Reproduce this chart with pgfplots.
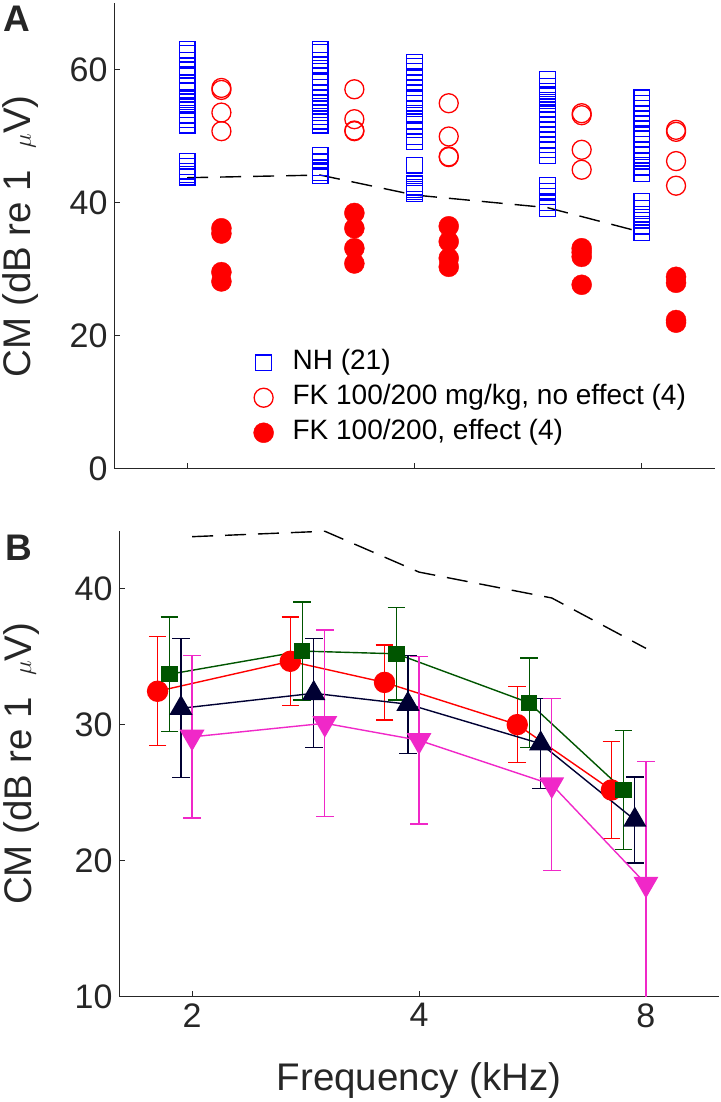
\documentclass[border=0pt]{standalone}
\usepackage{fontspec}
\setmainfont{Liberation Sans}
\usepackage{pgfplots}
\pgfplotsset{compat=1.18}
\definecolor{nhblue}{RGB}{0,0,255}
\definecolor{fkred}{RGB}{255,0,0}
\definecolor{dgreen}{RGB}{0,85,0}
\definecolor{navy}{RGB}{0,0,51}
\definecolor{mag}{RGB}{240,40,200}
\definecolor{axgray}{RGB}{38,38,38}
\pgfplotsset{
 myaxis/.style={
  scale only axis, xmin=1.6, xmax=10,
  axis x line*=bottom, axis y line*=left,
  axis line style={axgray, line width=1pt},
  tick align=inside, major tick length=6pt,
  tick style={axgray, line width=1pt},
  xminorticks=false, yminorticks=false,
  xtick={2,4,8},
  ticklabel style={font=\fontsize{34}{40}\selectfont, text=axgray},
  yticklabel style={xshift=-3pt},
  xticklabel style={yshift=-3pt},
  label style={font=\fontsize{38.5}{44}\selectfont, text=axgray},
  ylabel={CM (dB re 1\ \ $\mu$V)},
 },
 ebar/.style={error bars/.cd, y dir=both, y explicit, error bar style={line width=1.3pt}, error mark options={line width=1.3pt, mark size=8.8pt, rotate=90}},
}
\begin{document}
\begin{tikzpicture}
\path[use as bounding box] (0pt,0pt) rectangle (720pt,1102pt);
\node[font=\fontsize{37}{42}\selectfont\bfseries, text=axgray] at (17pt,1083pt) {A};
\node[font=\fontsize{37}{42}\selectfont\bfseries, text=axgray] at (19pt,554pt) {B};
% ---------------- panel A
\begin{axis}[xmode=log, log basis x=2, myaxis, at={(114pt,633pt)}, anchor=south west, width=601pt, height=465.5pt,
  ymin=0, ymax=70, ytick={0,20,40,60}, yticklabels={0,20,40,60}, xticklabels={,,},
  ylabel style={at={(axis description cs:-0.155,0.5)}, anchor=center},
  legend style={draw=none, fill=none, inner sep=0pt, at={(axis description cs:0.232,0.262)}, anchor=north west,
     font=\fontsize{28}{33}\selectfont, row sep=4pt, nodes={inner sep=2pt, text height=20pt, text depth=7pt},
     /tikz/every odd column/.append style={column sep=17pt}},
  legend cell align=left,
]
\addplot[only marks, mark=square, mark size=7.85pt, nhblue, line width=1.3pt] coordinates {
(2,63.1)(2,62.5)(2,61.5)(2,60.5)(2,60.0)(2,59.3)(2,58.0)(2,57.5)(2,56.8)(2,55.8)(2,55.2)(2,54.6)(2,54.0)(2,53.2)(2,52.5)(2,51.7)(2,46.3)(2,45.5)(2,44.8)(2,44.3)(2,43.9)
(3,63.1)(3,62.6)(3,61.5)(3,60.8)(3,59.8)(3,59.0)(3,58.2)(3,57.4)(3,56.5)(3,55.8)(3,55.0)(3,54.5)(3,53.6)(3,53.0)(3,52.3)(3,51.7)(3,47.2)(3,46.2)(3,45.3)(3,44.6)(3,44.1)
(4,61.2)(4,60.5)(4,59.8)(4,59.0)(4,58.0)(4,57.3)(4,56.5)(4,55.8)(4,55.0)(4,54.2)(4,53.2)(4,52.2)(4,51.0)(4,50.0)(4,49.2)(4,45.7)(4,42.9)(4,42.4)(4,42.0)(4,41.7)(4,41.4)
(6,58.6)(6,57.5)(6,56.8)(6,56.0)(6,55.4)(6,54.8)(6,54.0)(6,53.4)(6,52.6)(6,51.8)(6,51.0)(6,50.3)(6,49.5)(6,48.8)(6,48.0)(6,47.1)(6,42.6)(6,41.8)(6,41.0)(6,40.0)(6,39.2)
(8,55.8)(8,55.0)(8,54.2)(8,53.4)(8,52.6)(8,52.0)(8,51.2)(8,50.4)(8,49.6)(8,48.8)(8,48.0)(8,47.2)(8,46.3)(8,45.4)(8,44.4)(8,40.2)(8,39.2)(8,38.3)(8,37.4)(8,36.5)(8,35.5)
};
\addlegendentry{NH (21)}
\addplot[only marks, mark=o, mark size=9.5pt, fkred, line width=1.3pt] coordinates {
(2.22,57.3)(2.22,57.0)(2.22,53.6)(2.22,50.8)
(3.33,57.1)(3.33,52.6)(3.33,50.9)(3.33,50.8)
(4.44,55.0)(4.44,50.0)(4.44,47.0)(4.44,46.9)
(6.66,53.5)(6.66,53.2)(6.66,48.0)(6.66,45.0)
(8.88,51.0)(8.88,50.7)(8.88,46.3)(8.88,42.6)
};
\addlegendentry{FK 100/200 mg/kg, no effect (4)}
\addplot[only marks, mark=*, mark size=10pt, fkred, mark options={fill=fkred}] coordinates {
(2.22,36.2)(2.22,35.4)(2.22,29.6)(2.22,28.2)
(3.33,38.5)(3.33,36.2)(3.33,33.2)(3.33,30.9)
(4.44,36.5)(4.44,34.2)(4.44,31.7)(4.44,30.4)
(6.66,33.2)(6.66,32.6)(6.66,31.9)(6.66,27.7)
(8.88,28.9)(8.88,28.0)(8.88,22.4)(8.88,22.0)
};
\addlegendentry{FK 100/200, effect (4)}
\addplot[black, line width=1.4pt, dash pattern=on 21pt off 12pt, forget plot] coordinates {(2,43.8)(3,44.2)(4,41.2)(6,39.3)(8,35.6)};
\end{axis}
% ---------------- panel B
\begin{axis}[xmode=log, log basis x=2, myaxis, at={(119pt,105pt)}, anchor=south west, width=600pt, height=466.3pt,
  ymin=10, ymax=44.24, ytick={10,20,30,40}, yticklabels={10,20,30,40}, xticklabels={2,4,8},
  ylabel style={at={(axis description cs:-0.163,0.5)}, anchor=center},
  xlabel={Frequency (kHz)},
  xlabel style={at={(axis description cs:0.5,-0.179)}, anchor=center},
]
\addplot[black, line width=1.4pt, dash pattern=on 21pt off 12pt] coordinates {(2,43.8)(3,44.2)(4,41.2)(6,39.3)(8,35.6)};
\addplot[fkred, line width=1.4pt, mark=*, mark size=10pt, mark options={solid, fill=fkred}, ebar]
  table[x index=0, y index=1, y error index=2] {
1.8 32.45 4.0
2.7 34.65 3.25
3.6 33.1 2.75
5.4 30.0 2.8
7.2 25.2 3.55
};
\addplot[dgreen, line width=1.4pt, mark=square*, mark size=7.5pt, mark options={solid, fill=dgreen}, ebar]
  table[x index=0, y index=1, y error index=2] {
1.8667 33.7 4.2
2.8 35.4 3.6
3.7333 35.2 3.4
5.6 31.6 3.3
7.4667 25.2 4.35
};
\addplot[navy, line width=1.4pt, mark=triangle*, mark size=12pt, mark options={solid, fill=navy}, ebar]
  table[x index=0, y index=1, y error index=2] {
1.9333 31.2 5.1
2.9 32.3 4.0
3.8667 31.5 3.6
5.8 28.6 3.3
7.7333 23.0 3.15
};
\addplot[mag, line width=1.4pt, mark=triangle*, mark size=13pt, mark options={solid, fill=mag, rotate=180}, ebar]
  table[x index=0, y index=1, y error index=2] {
2 29.1 5.95
3 30.1 6.85
4 28.85 6.15
6 25.6 6.3
8 18.3 9.0
};
\end{axis}
\end{tikzpicture}
\end{document}
